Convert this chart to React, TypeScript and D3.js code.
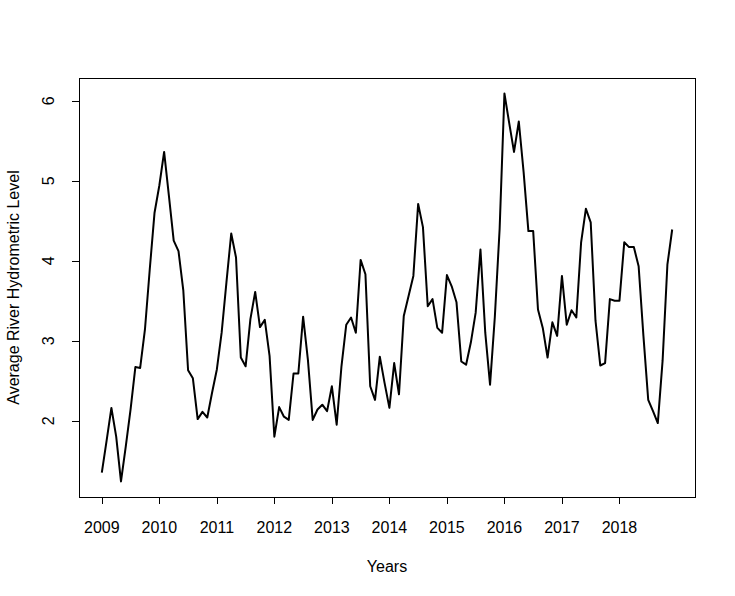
import React from "react";
import * as d3 from "d3";

const startYear = 2009;
const levels: number[] = [
  1.35, 1.75, 2.16, 1.80, 1.24, 1.68, 2.14, 2.67, 2.66, 3.14, 3.89, 4.60,
  4.94, 5.36, 4.81, 4.25, 4.12, 3.63, 2.63, 2.53, 2.02, 2.11, 2.04, 2.35,
  2.64, 3.10, 3.73, 4.34, 4.04, 2.79, 2.68, 3.27, 3.61, 3.17, 3.26, 2.81,
  1.80, 2.17, 2.05, 2.01, 2.59, 2.59, 3.30, 2.76, 2.01, 2.14, 2.20, 2.12,
  2.43, 1.95, 2.68, 3.20, 3.29, 3.10, 4.01, 3.83, 2.43, 2.26, 2.80, 2.47,
  2.16, 2.72, 2.33, 3.31, 3.56, 3.81, 4.71, 4.42, 3.43, 3.52, 3.16, 3.10,
  3.82, 3.68, 3.48, 2.74, 2.70, 2.98, 3.35, 4.14, 3.10, 2.45, 3.30, 4.40,
  6.09, 5.72, 5.36, 5.74, 5.11, 4.37, 4.37, 3.39, 3.16, 2.79, 3.23, 3.06,
  3.81, 3.20, 3.38, 3.29, 4.23, 4.65, 4.48, 3.25, 2.69, 2.72, 3.52, 3.50,
  3.50, 4.23, 4.17, 4.17, 3.93, 3.06, 2.26, 2.12, 1.97, 2.75, 3.95, 4.39,
];
const xTicks: number[] = [2009, 2010, 2011, 2012, 2013, 2014, 2015, 2016, 2017, 2018];
const yTicks: number[] = [2, 3, 4, 5, 6];
const xTitle = "Years";
const yTitle = "Average River Hydrometric Level";

const W = 735;
const H = 596;
const L = 79, R = 695, T = 78, B = 497;
const FONT = "'Liberation Sans', Arial, sans-serif";

export default function App() {
  const pts = levels.map((v, i) => ({ t: startYear + i / 12, v }));
  const tExt = d3.extent(pts, (d) => d.t) as [number, number];
  const vExt = d3.extent(pts, (d) => d.v) as [number, number];
  const tPad = (tExt[1] - tExt[0]) * 0.04;
  const vPad = (vExt[1] - vExt[0]) * 0.04;
  const x = d3.scaleLinear().domain([tExt[0] - tPad, tExt[1] + tPad]).range([L, R]);
  const y = d3.scaleLinear().domain([vExt[0] - vPad, vExt[1] + vPad]).range([B, T]);
  const line = d3
    .line<{ t: number; v: number }>()
    .x((d) => x(d.t))
    .y((d) => y(d.v));

  return (
    <svg
      width={W}
      height={H}
      style={{ position: "absolute", left: 0, top: 0, background: "#fff" }}
      fontFamily={FONT}
    >
      <rect x={0} y={0} width={W} height={H} fill="#fff" />
      <path d={line(pts) || ""} fill="none" stroke="#000" strokeWidth={2} strokeLinejoin="round" />
      <rect x={L + 0.5} y={T + 0.5} width={R - L} height={B - T} fill="none" stroke="#000" strokeWidth={1} />
      {xTicks.map((t) => (
        <g key={"x" + t}>
          <line x1={Math.round(x(t)) + 0.5} x2={Math.round(x(t)) + 0.5} y1={B} y2={B + 7} stroke="#000" />
          <text x={x(t)} y={B + 36} textAnchor="middle" fontSize={16} fill="#000">
            {t}
          </text>
        </g>
      ))}
      {yTicks.map((v) => (
        <g key={"y" + v}>
          <line x1={L - 7} x2={L} y1={Math.round(y(v)) + 0.5} y2={Math.round(y(v)) + 0.5} stroke="#000" />
          <text
            transform={`translate(${L - 25},${y(v)}) rotate(-90)`}
            textAnchor="middle"
            fontSize={16}
            fill="#000"
          >
            {v}
          </text>
        </g>
      ))}
      <text x={(L + R) / 2} y={572} textAnchor="middle" fontSize={16} fill="#000">
        {xTitle}
      </text>
      <text
        transform={`translate(19,${(T + B) / 2}) rotate(-90)`}
        textAnchor="middle"
        fontSize={16}
        fill="#000"
      >
        {yTitle}
      </text>
    </svg>
  );
}
